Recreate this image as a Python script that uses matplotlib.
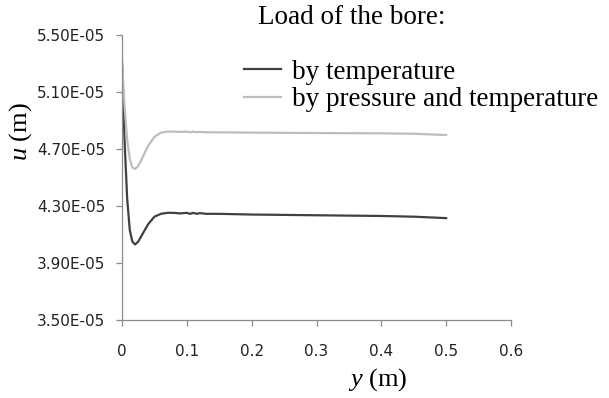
import matplotlib
matplotlib.use("Agg")
import matplotlib.pyplot as plt
from matplotlib.ticker import FuncFormatter

# distance along the bore (m)
y_pos = [0, 0.004, 0.008, 0.012, 0.016, 0.02, 0.025, 0.03, 0.04, 0.05,
         0.06, 0.07, 0.08, 0.09, 0.1, 0.105, 0.11, 0.115, 0.12, 0.13,
         0.15, 0.2, 0.3, 0.4, 0.45, 0.5]

# displacement (units of 1e-5 m)
u_temp = [5.31, 4.75, 4.35, 4.13, 4.05, 4.03, 4.05, 4.09, 4.17, 4.225,
          4.245, 4.252, 4.252, 4.248, 4.252, 4.245, 4.252, 4.245, 4.25, 4.245,
          4.245, 4.24, 4.235, 4.23, 4.225, 4.215]
u_press = [5.31, 5.0, 4.76, 4.63, 4.57, 4.56, 4.58, 4.625, 4.72, 4.785,
           4.815, 4.822, 4.822, 4.82, 4.822, 4.817, 4.822, 4.818, 4.82, 4.817,
           4.817, 4.815, 4.812, 4.81, 4.807, 4.798]

labels = ["by temperature", "by pressure and temperature"]
y_ticks = [3.5e-5, 3.9e-5, 4.3e-5, 4.7e-5, 5.1e-5, 5.5e-5]
x_ticks = [0, 0.1, 0.2, 0.3, 0.4, 0.5, 0.6]

plt.rcParams["mathtext.fontset"] = "custom"
plt.rcParams["mathtext.rm"] = "Liberation Serif"
plt.rcParams["mathtext.it"] = "Liberation Serif:italic"

fig = plt.figure(figsize=(6.09, 3.98), dpi=100)
ax = fig.add_axes([122 / 609, 1 - 320 / 398, (511 - 122) / 609, (320 - 35) / 398])

ax.plot(y_pos, [v * 1e-5 for v in u_temp], color="#404040", lw=1.6, label=labels[0])
ax.plot(y_pos, [v * 1e-5 for v in u_press], color="#bdbdbd", lw=1.6, label=labels[1])

ax.set_xlim(0, 0.6)
ax.set_ylim(3.5e-5, 5.5e-5)
ax.set_xticks(x_ticks)
ax.set_yticks(y_ticks)
ax.xaxis.set_major_formatter(FuncFormatter(lambda v, p: "0" if v == 0 else "%g" % v))
ax.yaxis.set_major_formatter(FuncFormatter(lambda v, p: ("%.2E" % v)))

for s in ["top", "right"]:
    ax.spines[s].set_visible(False)
for s in ["left", "bottom"]:
    ax.spines[s].set_color("#8c8c8c")
    ax.spines[s].set_linewidth(0.9)
ax.tick_params(direction="out", length=4, width=0.9, color="#8c8c8c",
               labelsize=11, labelcolor="#222222")
ax.tick_params(axis="y", pad=8)
ax.tick_params(axis="x", pad=13)

fig.text(21 / 609, 1 - 132 / 398, "$u$ (m)", rotation=90, family="Liberation Serif",
         ha="center", va="center", fontsize=19)
fig.text(378 / 609, 1 - 380 / 398, "$y$ (m)", family="Liberation Serif",
         ha="center", va="center", fontsize=19)

fig.text(352 / 609, 1 - 18 / 398, "Load of the bore:", ha="center", va="center",
         fontsize=19.5, family="Liberation Serif")

ax.legend(loc="upper left", bbox_to_anchor=(230 / 609, 1 - 46 / 398),
          bbox_transform=fig.transFigure, frameon=False,
          prop={"family": "Liberation Serif", "size": 19.5},
          handlelength=1.4, handletextpad=0.4, labelspacing=0.1, borderpad=0)

fig.savefig("out.png", dpi=100)
